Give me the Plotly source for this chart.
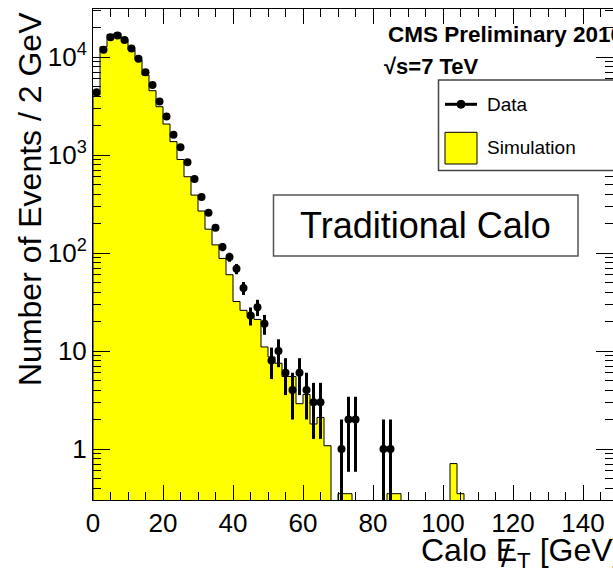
import numpy as np
import plotly.graph_objects as go

# Canvas and frame geometry (pixels)
W, H = 613, 575
ML, MR, MT, MB = 93, 0, 9, 75

# 2 GeV bins of calorimeter missing transverse energy
bin_width = 2.0
n_bins = 75
bin_edges = np.arange(0, n_bins + 1) * bin_width
bin_centers = 0.5 * (bin_edges[:-1] + bin_edges[1:])

# Observed events per bin (0-2, 2-4, ... GeV)
data_counts = [
    4370, 11840, 15930, 16570, 14900, 12210, 9610, 7000, 5180, 3525,
    2470, 1607, 1202, 845, 569, 373, 258, 181, 115, 91,
    69, 44, 23, 28, 19, 8, 10, 6, 4, 6,
    4, 3, 3, 0, 0, 1, 2, 2, 0, 0,
    0, 1, 1,
] + [0] * 32

# Simulated (normalised) events per bin
sim_counts = [
    4100, 12700, 17000, 17500, 15200, 11800, 9300, 6550, 4530, 3110,
    2070, 1370, 900, 600, 390, 268, 175, 121, 88, 60,
    32, 26, 24, 21, 11, 8.7, 7.5, 5.5, 5.5, 2.9,
    3.6, 1.8, 2.1, 1.08, 0, 0.35, 0.35, 0, 0, 0,
    0, 0, 0.35, 0.35, 0, 0, 0, 0, 0, 0,
    0, 0.71, 0.35,
] + [0] * 22

y_tick_vals = [1, 10, 100, 1000, 10000]
y_tick_text = ["1", "10", "10<sup>2</sup>", "10<sup>3</sup>", "10<sup>4</sup>"]
x_tick_step = 20

FONT = "Liberation Sans, Arial, sans-serif"

# Axis ranges: 3.5 px per GeV horizontally, 98 px per decade vertically
plot_w = W - ML - MR
plot_h = H - MT - MB
x_range = [0, plot_w / 3.5]
y_range = [-0.5204, -0.5204 + plot_h / 98.0]


def px(x):
    return (x - ML) / plot_w


def py(y):
    return 1 - (y - MT) / plot_h


# Step outline of the simulated histogram (empty bins sent far below the axis)
floor = 1e-3
sx, sy = [bin_edges[0]], [floor]
for lo, hi, v in zip(bin_edges[:-1], bin_edges[1:], sim_counts):
    val = v if v > 0 else floor
    sx += [lo, hi]
    sy += [val, val]
sx.append(bin_edges[-1])
sy.append(floor)

fig = go.Figure()
fig.add_trace(go.Scatter(
    x=sx, y=sy, mode="lines", fill="toself",
    fillcolor="#FFFF00", line=dict(color="black", width=1),
    showlegend=False, hoverinfo="skip",
))

dc = np.array(data_counts, dtype=float)
mask = dc > 0
fig.add_trace(go.Scatter(
    x=bin_centers[mask], y=dc[mask], mode="markers",
    marker=dict(color="black", size=8),
    error_y=dict(type="data", array=np.sqrt(dc[mask]), color="black",
                 thickness=3, width=0),
    showlegend=False,
))

minor_y = [m * 10.0 ** e for e in range(-1, 5) for m in range(2, 10)]

fig.update_layout(
    width=W, height=H, autosize=False,
    margin=dict(l=ML, r=MR, t=MT, b=MB, pad=0),
    paper_bgcolor="white", plot_bgcolor="white",
    font=dict(family=FONT, color="black"),
    xaxis=dict(
        range=x_range, showgrid=False, zeroline=False,
        showline=True, linecolor="black", linewidth=1, mirror="ticks",
        ticks="inside", ticklen=15, tickwidth=1, tickcolor="black",
        tick0=0, dtick=x_tick_step,
        minor=dict(ticks="inside", ticklen=8, dtick=5, tick0=0,
                   tickcolor="black", showgrid=False),
        tickfont=dict(size=26, family=FONT),
    ),
    yaxis=dict(
        type="log", range=y_range, showgrid=False, zeroline=False,
        showline=True, linecolor="black", linewidth=1, mirror="ticks",
        ticks="inside", ticklen=17, tickwidth=1, tickcolor="black",
        tickmode="array", tickvals=y_tick_vals, ticktext=y_tick_text,
        minor=dict(ticks="inside", ticklen=8, tickmode="array",
                   tickvals=minor_y, tickcolor="black", showgrid=False),
        tickfont=dict(size=26, family=FONT),
    ),
)

shapes = []
annotations = []

# Legend box
shapes.append(dict(type="rect", xref="paper", yref="paper",
                   x0=px(438.5), x1=px(618), y0=py(170.5), y1=py(80),
                   line=dict(color="#444444", width=1.5), fillcolor="white", layer="above"))
shapes.append(dict(type="line", xref="paper", yref="paper",
                   x0=px(445), x1=px(477), y0=py(104.3), y1=py(104.3),
                   line=dict(color="black", width=3), layer="above"))
shapes.append(dict(type="circle", xref="paper", yref="paper",
                   x0=px(457), x1=px(465), y0=py(108.3), y1=py(100.3),
                   line=dict(color="black", width=1), fillcolor="black", layer="above"))
shapes.append(dict(type="rect", xref="paper", yref="paper",
                   x0=px(445), x1=px(477), y0=py(164), y1=py(132.3),
                   line=dict(color="black", width=1), fillcolor="#FFFF00", layer="above"))
annotations.append(dict(text="Data", xref="paper", yref="paper",
                        x=px(485), y=py(104.3), xanchor="left", yanchor="middle",
                        showarrow=False, font=dict(size=19, family=FONT)))
annotations.append(dict(text="Simulation", xref="paper", yref="paper",
                        x=px(485), y=py(147.5), xanchor="left", yanchor="middle",
                        showarrow=False, font=dict(size=19, family=FONT)))

# Label box
shapes.append(dict(type="rect", xref="paper", yref="paper",
                   x0=px(273.5), x1=px(578), y0=py(256), y1=py(195),
                   line=dict(color="#555555", width=1.5), fillcolor="white", layer="above"))
annotations.append(dict(text="Traditional Calo", xref="paper", yref="paper",
                        x=px(425.7), y=py(225.5), xanchor="center", yanchor="middle",
                        showarrow=False, font=dict(size=36, family=FONT)))

# Experiment labels
annotations.append(dict(text="<b>CMS Preliminary 2010</b>", xref="paper", yref="paper",
                        x=px(386), y=py(35), xanchor="left", yanchor="middle",
                        showarrow=False, font=dict(size=22.5, family=FONT)))
annotations.append(dict(text="<b>\u221as=7 TeV</b>", xref="paper", yref="paper",
                        x=px(382), y=py(66.5), xanchor="left", yanchor="middle",
                        showarrow=False, font=dict(size=22, family=FONT)))

# Axis titles (the missing-energy slash is overlaid on the E)
annotations.append(dict(text="Calo E<sub>T</sub> [GeV]", xref="paper", yref="paper",
                        x=px(419), y=py(552), xanchor="left", yanchor="middle",
                        showarrow=False, font=dict(size=32, family=FONT)))
annotations.append(dict(text="/", xref="paper", yref="paper",
                        x=px(505), y=py(556), xanchor="center", yanchor="middle",
                        showarrow=False, font=dict(size=32, family=FONT)))
annotations.append(dict(text="Number of Events / 2 GeV", xref="paper", yref="paper",
                        x=px(30), y=py(199), xanchor="center", yanchor="middle",
                        textangle=-90, showarrow=False, font=dict(size=32, family=FONT)))

fig.update_layout(shapes=shapes, annotations=annotations)

fig.write_html("out.html")
